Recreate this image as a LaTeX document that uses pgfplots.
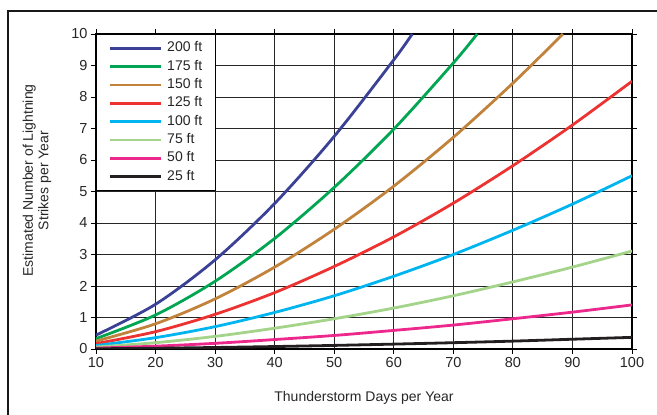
\documentclass[border=0pt]{standalone}
\usepackage{pgfplots}
\pgfplotsset{compat=1.18}
\usepackage{fontspec}
\setmainfont{Liberation Sans}

\definecolor{c200}{RGB}{59,65,150}
\definecolor{c175}{RGB}{0,166,81}
\definecolor{c150}{RGB}{193,130,60}
\definecolor{c125}{RGB}{237,50,50}
\definecolor{c100}{RGB}{0,181,239}
\definecolor{c75}{RGB}{164,212,138}
\definecolor{c50}{RGB}{236,40,140}
\definecolor{c25}{RGB}{35,31,32}

\begin{document}
\begin{tikzpicture}
\begin{axis}[
    at={(0pt,0pt)}, anchor=south west,
    scale only axis,
    width=536pt, height=315pt,
    xmin=10, xmax=100,
    ymin=0, ymax=10,
    xtick={10,20,...,100},
    ytick={0,1,...,10},
    grid=major,
    major grid style={black!85, line width=0.9pt},
    axis line style={black, line width=1.1pt},
    tick align=outside,
    major tick length=5pt,
    tick style={black, line width=0.8pt},
    every tick label/.append style={font=\fontsize{14.5}{16}\selectfont, text=black!85},
    /pgf/number format/assume math mode=true,
    xlabel={Thunderstorm Days per Year},
    xlabel style={font=\fontsize{14}{16}\selectfont, text=black!85,
        at={(axis description cs:0.5,0)}, anchor=base, yshift=-52.7pt},
    ylabel={Estimated Number of Lightning\\Strikes per Year},
    ylabel style={font=\fontsize{14}{15.5}\selectfont, text=black!85, align=center,
        at={(axis description cs:-0.110,0.535)}, anchor=center},
    legend style={at={(0,1)}, anchor=north west, draw=black, line width=0.9pt,
        fill=white, font=\fontsize{14}{16}\selectfont,
        inner xsep=12pt, inner ysep=6.5pt, row sep=3.3pt,
        /tikz/every odd column/.append style={column sep=4pt},
        nodes={inner sep=1pt, text height=10pt, text depth=3pt, text=black!85}},
    legend cell align=left,
    legend image code/.code={\draw[#1, line width=2.8pt] (0pt,0pt) -- (51pt,0pt);},
    every axis plot/.append style={line width=2.8pt, smooth},
]
\addplot[color=c200] coordinates {(10,0.44)(20,1.42)(30,2.83)(40,4.62)(50,6.75)(60,9.18)(63.1,10)};
\addlegendentry{200 ft}
\addplot[color=c175] coordinates {(10,0.33)(20,1.08)(30,2.15)(40,3.51)(50,5.13)(60,6.98)(70,9.08)(74,10)};
\addlegendentry{175 ft}
\addplot[color=c150] coordinates {(10,0.25)(20,0.80)(30,1.59)(40,2.60)(50,3.80)(60,5.17)(70,6.72)(80,8.44)(88.4,10)};
\addlegendentry{150 ft}
\addplot[color=c125] coordinates {(10,0.17)(20,0.55)(30,1.10)(40,1.79)(50,2.62)(60,3.56)(70,4.63)(80,5.82)(90,7.11)(100,8.5)};
\addlegendentry{125 ft}
\addplot[color=c100] coordinates {(10,0.11)(20,0.36)(30,0.71)(40,1.16)(50,1.69)(60,2.31)(70,3.0)(80,3.77)(90,4.6)(100,5.5)};
\addlegendentry{100 ft}
\addplot[color=c75] coordinates {(10,0.062)(20,0.20)(30,0.40)(40,0.66)(50,0.96)(60,1.30)(70,1.69)(80,2.13)(90,2.60)(100,3.11)};
\addlegendentry{75 ft}
\addplot[color=c50] coordinates {(10,0.028)(20,0.09)(30,0.18)(40,0.30)(50,0.43)(60,0.59)(70,0.76)(80,0.96)(90,1.17)(100,1.40)};
\addlegendentry{50 ft}
\addplot[color=c25] coordinates {(10,0.007)(20,0.024)(30,0.048)(40,0.078)(50,0.114)(60,0.155)(70,0.20)(80,0.25)(90,0.31)(100,0.37)};
\addlegendentry{25 ft}
\end{axis}
% outer frame, cut by the page on the right and at the bottom
\draw[black!90, line width=2.5pt] (-88pt,-80pt) -- (-88pt,338pt) -- (580pt,338pt);
\pgfresetboundingbox
\path[use as bounding box] (-96pt,-66pt) rectangle (561pt,349pt);
\end{tikzpicture}
\end{document}
